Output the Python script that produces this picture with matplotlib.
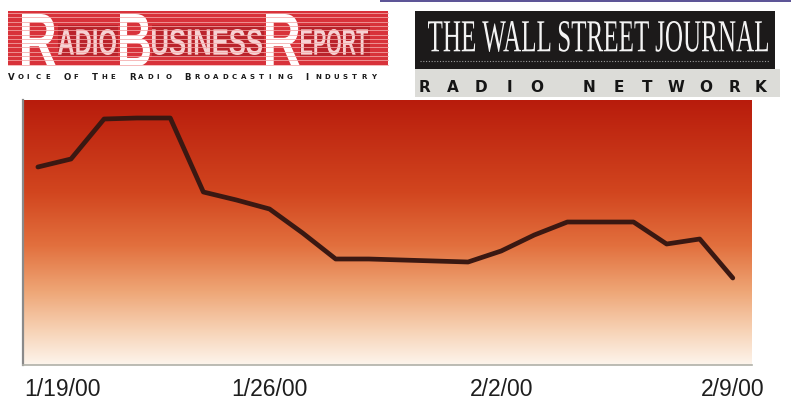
import numpy as np
import pandas as pd
import matplotlib
matplotlib.use("Agg")
from matplotlib import pyplot as plt
import matplotlib.dates as mdates
from matplotlib.colors import LinearSegmentedColormap
from matplotlib.textpath import TextPath
from matplotlib.patches import PathPatch, Rectangle
from matplotlib.font_manager import FontProperties
from matplotlib.transforms import Affine2D, ScaledTranslation

# daily values (no y scale shown, arbitrary units)
dates = pd.date_range("2000-01-19", "2000-02-09", freq="D")
values = [192, 200, 240, 241, 241, 167, 159, 150, 126, 100, 100,
          99, 98, 97, 108, 124, 137, 137, 137, 115, 120, 81]
tick_dates = ["2000-01-19", "2000-01-26", "2000-02-02", "2000-02-09"]
tick_labels = ["1/19/00", "1/26/00", "2/2/00", "2/9/00"]

W, H = 791, 402
fig = plt.figure(figsize=(W / 100, H / 100), dpi=100)
fig.patch.set_facecolor("white")


def px_box(x0, x1, y0, y1):
    return [x0 / W, 1 - y1 / H, (x1 - x0) / W, (y1 - y0) / H]


# --- chart ---
ax = fig.add_axes(px_box(23, 752, 101, 366))
grad = LinearSegmentedColormap.from_list("rbr", [
    (0.0, "#b81c0c"), (0.35, "#d2461f"), (0.55, "#e2703e"),
    (0.72, "#eea575"), (0.87, "#f7d2b5"), (1.0, "#fdf5ec")])
ax.imshow(np.linspace(0, 1, 256).reshape(-1, 1), cmap=grad, aspect="auto",
          extent=[0, 1, 0, 1], transform=ax.transAxes, zorder=0)

x = mdates.date2num(dates)
ax.plot(x, values, color="#3a1812", lw=3.4, solid_joinstyle="round",
        solid_capstyle="round", zorder=3)

ax.set_xlim(x[0] - 0.45, x[-1] + 0.58)
ax.set_ylim(-6, 259)
ax.set_yticks([])
ax.set_xticks(mdates.date2num(pd.to_datetime(tick_dates)))
ax.set_xticklabels(tick_labels, fontsize=16.5, family="Liberation Sans",
                   color="#1e1e1e")
ax.tick_params(axis="x", length=0, pad=8.5)
lbls = ax.get_xticklabels()
lbls[0].set_transform(lbls[0].get_transform() +
                      ScaledTranslation(0.25, 0, fig.dpi_scale_trans))
for s in ["top", "right"]:
    ax.spines[s].set_visible(False)
ax.spines["left"].set_color("#8a8a8a")
ax.spines["left"].set_linewidth(1.6)
ax.spines["bottom"].set_color("#b0b0a8")
ax.spines["bottom"].set_linewidth(1.2)

# --- header logos drawn in pixel coordinates ---
hd = fig.add_axes([0, 0, 1, 1], zorder=5)
hd.set_xlim(0, W)
hd.set_ylim(H, 0)
hd.axis("off")
hd.patch.set_alpha(0)


def fit_text(s, x0, x1, ytop, ybot, family, weight, color, alpha=1.0):
    tp = TextPath((0, 0), s, size=100,
                  prop=FontProperties(family=family, weight=weight))
    bb = tp.get_extents()
    tr = Affine2D().translate(-bb.x0, -bb.y0).scale(
        (x1 - x0) / bb.width, -(ybot - ytop) / bb.height).translate(x0, ybot)
    hd.add_patch(PathPatch(tr.transform_path(tp), fc=color, ec="none",
                           lw=0, alpha=alpha))


# scan edge at top
hd.add_patch(Rectangle((380, 0), 411, 3, fc="#5d5597", ec="none"))

# Radio Business Report
hd.add_patch(Rectangle((8, 12), 380, 54, fc="#d8323a", ec="none"))
for yy in np.arange(14, 66, 4.3):
    hd.plot([8, 388], [yy, yy], color="#f4a8a8", lw=0.7, alpha=0.8)
hd.add_patch(Rectangle((58, 26), 60, 32, fc="#a61a22", ec="none", alpha=0.6))
hd.add_patch(Rectangle((152, 26), 112, 32, fc="#a61a22", ec="none", alpha=0.6))
hd.add_patch(Rectangle((300, 26), 70, 32, fc="#a61a22", ec="none", alpha=0.6))
fit_text("R", 22, 56, 15, 67, "Liberation Sans", "bold", "white")
fit_text("ADIO", 58, 116, 30, 56, "Liberation Sans", "bold", "#fde6e6", 0.9)
fit_text("B", 120, 150, 15, 67, "Liberation Sans", "bold", "white")
fit_text("USINESS", 152, 262, 30, 56, "Liberation Sans", "bold", "#fde6e6", 0.9)
fit_text("R", 266, 300, 15, 67, "Liberation Sans", "bold", "white")
fit_text("EPORT", 301, 368, 30, 56, "Liberation Sans", "bold", "#fde6e6", 0.9)

tagline = "VOICE OF THE RADIO BROADCASTING INDUSTRY"
for i, ch in enumerate(tagline):
    if ch == " ":
        continue
    first = i == 0 or tagline[i - 1] == " "
    hd.text(8 + i * 9.3, 77, ch, fontsize=6.2 if first else 5.0,
            fontweight="bold", color="#1a1a1a", va="center", ha="left")

# Wall Street Journal Radio Network
hd.add_patch(Rectangle((415, 70), 365, 28, fc="#dcdcd8", ec="none"))
hd.add_patch(Rectangle((415, 12), 360, 58, fc="#1c1a1a", ec="none"))
fit_text("THE WALL STREET JOURNAL", 428, 768, 22, 53,
         "Liberation Serif", "normal", "#f4f4f4")
hd.plot([420, 770], [62, 62], color="#9a9a9a", lw=0.8, ls=(0, (1, 1.5)))
net = "RADIO NETWORK"
net_x = [425, 453, 481, 509, 537, 0, 589, 619, 647, 676, 706, 734, 761]
for ch, xx in zip(net, net_x):
    if ch == " ":
        continue
    hd.text(xx, 88, ch, fontsize=11, fontweight="bold", color="#151515",
            ha="center", va="center", family="DejaVu Sans")

fig.savefig("out.png", dpi=100)
